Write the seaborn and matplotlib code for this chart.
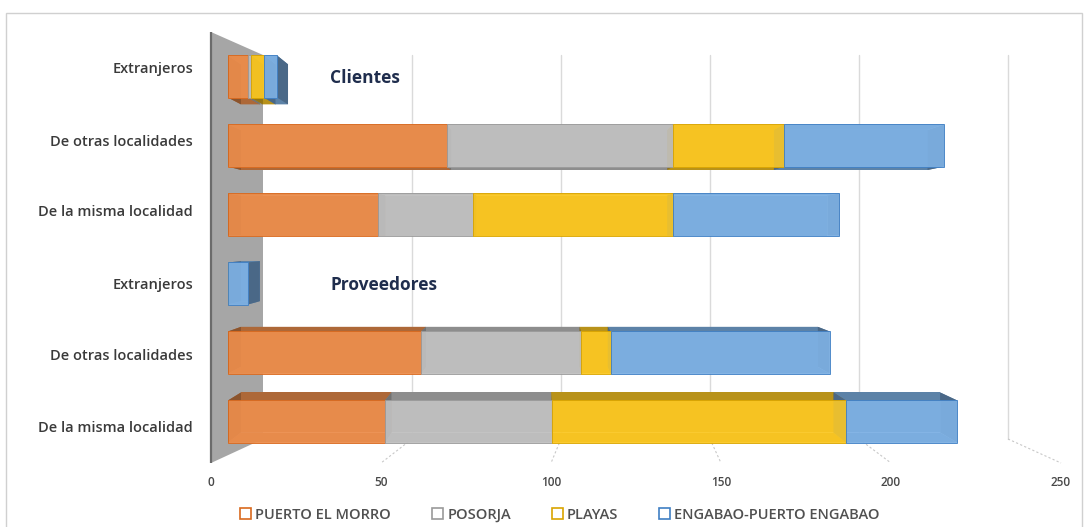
import numpy as np
import pandas as pd
import matplotlib
matplotlib.use("Agg")
import matplotlib.pyplot as plt
from matplotlib.patches import Polygon, Patch, Rectangle
import matplotlib.colors as mcolors
import seaborn as sns

# ---- data -------------------------------------------------------------
row_labels = ["Extranjeros", "De otras localidades", "De la misma localidad",
              "Extranjeros", "De otras localidades", "De la misma localidad"]
group_titles = ["Clientes", "Proveedores"]
series_names = ["PUERTO EL MORRO", "POSORJA", "PLAYAS", "ENGABAO-PUERTO ENGABAO"]
puerto_el_morro = [6, 67, 46, 0, 59, 48]
posorja = [1, 69, 29, 0, 49, 51]
playas = [4, 34, 61, 0, 9, 90]
engabao = [4, 49, 51, 6, 67, 34]
x_ticks = [0, 50, 100, 150, 200, 250]

series_values = [puerto_el_morro, posorja, playas, engabao]
face_colors = ["#F0904E", "#C4C4C4", "#FFCB24", "#80B4E8"]
edge_colors = ["#D9691E", "#9A9A9A", "#D9A400", "#3F7FC4"]

sns.set_theme(style="white")
plt.rcParams["font.family"] = ["Open Sans", "DejaVu Sans"]

W, H = 1087, 527
fig = plt.figure(figsize=(W / 100, H / 100), dpi=100)
fig.patch.set_facecolor("white")

# plotting box in pixels
px0, px1, py0, py1 = 200, 1080, 20, 470
ax = fig.add_axes([px0 / W, 1 - py1 / H, (px1 - px0) / W, (py1 - py0) / H])

# bar plane: value 0 sits at ORIG px, SCALE px per unit; rows every ROWSTEP px
ORIG, SCALE = 228.0, 3.27
ROW0, ROWSTEP = 76.5, 69.0


def hx(px):
    return (px - ORIG) / SCALE


def vy(py):
    return (py - ROW0) / ROWSTEP


# perspective frame: front edge of the floor and the back wall
def front_x(v):
    return hx(211 + 3.40 * v)


def back_x(v):
    return hx(263 + 2.98 * v)


front_top, front_bot = vy(32), vy(463)
back_top, back_bot = vy(55), vy(439)

ax.set_xlim(hx(px0), hx(px1))
ax.set_ylim(vy(py1), vy(py0))

# side wall
wall = Polygon([(front_x(0), front_top), (back_x(0), back_top),
                (back_x(0), back_bot), (front_x(0), front_bot)],
               closed=True, facecolor="#A6A6A6", edgecolor="none", zorder=0.5)
ax.add_patch(wall)
ax.plot([front_x(0), front_x(0)], [front_top, front_bot], color="#6B6B6B",
        lw=1.6, zorder=0.6, solid_capstyle="butt")

# gridlines on the back wall and their guides across the floor
for v in x_ticks[1:]:
    ax.plot([back_x(v), back_x(v)], [back_top, back_bot], color="#DADADA",
            lw=1.0, zorder=0.4)
    ax.plot([back_x(v), front_x(v)], [back_bot, front_bot], color="#C8C8C8",
            lw=0.8, ls=(0, (2, 2)), zorder=0.4)

# depth faces of every bar segment
BAR_H = 0.61
EYE_Y = vy(237)


def shift(v, y):
    return (13 - 0.135 * v) / SCALE, -0.049 * (y - EYE_Y)


def darker(c, f):
    r, g, b = mcolors.to_rgb(c)
    return (r * f, g * f, b * f)


left = np.zeros(len(row_labels))
for vals, fc in zip(series_values, face_colors):
    vals = np.asarray(vals, dtype=float)
    for r, (a, w) in enumerate(zip(left, vals)):
        if w <= 0:
            continue
        b = a + w
        y_top, y_bot = r - BAR_H / 2, r + BAR_H / 2
        front = [(a, y_top), (b, y_top), (b, y_bot), (a, y_bot)]
        back = []
        for (x, y) in front:
            dx, dy = shift(x, y)
            back.append((x + dx, y + dy))
        side = darker(fc, 0.72)
        ends = darker(fc, 0.58)
        ax.add_patch(Polygon(back, closed=True, facecolor=side, edgecolor="none", zorder=2))
        for i, j, col in [(0, 1, side), (3, 2, side), (1, 2, ends), (0, 3, ends)]:
            quad = [front[i], front[j], back[j], back[i]]
            ax.add_patch(Polygon(quad, closed=True, facecolor=col,
                                 edgecolor="none", zorder=2.1))
    left = left + vals

# front faces of the stacked bars
left = np.zeros(len(row_labels))
for name, vals, fc, ec in zip(series_names, series_values, face_colors, edge_colors):
    df = pd.DataFrame({"row": np.arange(len(row_labels)), "value": vals})
    sns.barplot(data=df, x="value", y="row", orient="h", color=fc,
                saturation=1, width=BAR_H, errorbar=None, left=left,
                edgecolor=ec, linewidth=0.7, alpha=0.88, zorder=3, ax=ax)
    left = left + np.asarray(vals, dtype=float)

ax.set_xlim(hx(px0), hx(px1))
ax.set_ylim(vy(py1), vy(py0))
ax.set_xlabel("")
ax.set_ylabel("")
for s in ax.spines.values():
    s.set_visible(False)
ax.grid(False)

# category labels sit on the front edge of the wall, slightly spread
label_px = [68, 141, 211, 284, 355, 427]
ax.set_yticks([vy(p) for p in label_px], labels=row_labels)
ax.set_xticks([front_x(v) for v in x_ticks], labels=[str(v) for v in x_ticks])
ax.tick_params(axis="y", length=0, pad=5, labelsize=10.5, labelcolor="#3A3A3A")
ax.tick_params(axis="x", length=0, pad=4, labelsize=8.5, labelcolor="#484848")
for t in ax.get_yticklabels() + ax.get_xticklabels():
    t.set_fontweight(600)

# group titles
for title, row in zip(group_titles, [0, 3]):
    ax.text(hx(330), row + 0.02, title, ha="left", va="center",
            fontsize=12.5, fontweight="bold", color="#1F2D4D", zorder=5)

# legend with outlined squares
handles = [Patch(facecolor="white", edgecolor=ec, linewidth=1.2, label=n)
           for n, ec in zip(series_names, edge_colors)]
fig.legend(handles=handles, loc="center", bbox_to_anchor=(560 / W, 1 - 515 / H),
           ncol=4, frameon=False, handlelength=0.75,
           handleheight=0.75, handletextpad=0.3, columnspacing=2.8,
           labelcolor="#505050", prop={"weight": 600, "size": 10.5})

# outer chart frame
fig.patches.append(Rectangle((6 / W, -0.05), 1076 / W, 1.05 - 13 / H,
                             transform=fig.transFigure, fill=False,
                             edgecolor="#D0D0D0", linewidth=1.0))

fig.savefig("out.png", dpi=100)
